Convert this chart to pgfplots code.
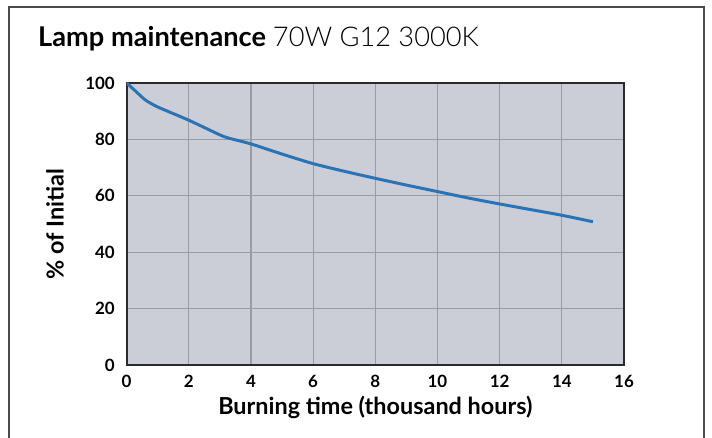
\documentclass[border=0pt]{standalone}
\usepackage{fontspec}
\setmainfont{Lato}
\newfontfamily\lightfont{Lato Light}
\usepackage{pgfplots}
\pgfplotsset{compat=1.18}
\definecolor{bgc}{HTML}{CBCED6}
\definecolor{gridc}{HTML}{999CA2}
\definecolor{curve}{HTML}{2A74B6}
\definecolor{frame}{HTML}{2B2A2C}
\begin{document}
\begin{tikzpicture}[x=1bp,y=1bp]
\useasboundingbox (0,0) rectangle (712,438);
\draw[line width=1.8bp, color=frame!85] (9,0) -- (9,431) -- (704,431) -- (704,0);
\node[anchor=base west, inner sep=0pt, font=\fontsize{27.3}{30}\selectfont] at (38,391) {\textbf{Lamp maintenance} {\lightfont 70W G12 3000K}};
\begin{axis}[
  at={(126.6bp,73bp)}, anchor=origin,
  scale only axis, width=497.4bp, height=282bp,
  xmin=0, xmax=16, ymin=0, ymax=100,
  xtick={0,2,...,16}, ytick={0,20,...,100},
  axis background/.style={fill=bgc},
  grid=major, major grid style={color=gridc, line width=1.1bp},
  axis line style={color=frame, line width=2.2bp},
  tick style={draw=none},
  /pgf/number format/assume math mode=true,
  xticklabel style={font=\bfseries\fontsize{17}{18}\selectfont, inner sep=0pt, anchor=base, yshift=-23bp},
  yticklabel style={font=\bfseries\fontsize{17}{18}\selectfont, inner sep=0pt, anchor=east, xshift=-11.6bp},
  xlabel={\textbf{Burning time (thousand hours)}},
  ylabel={\textbf{\% of Initial}},
  every axis x label/.style={at={(axis description cs:0.5,-0.1773)}, anchor=base, inner sep=0pt, font=\fontsize{23.5}{26}\selectfont},
  every axis y label/.style={at={(axis description cs:-0.144,0.5)}, rotate=90, anchor=center, inner sep=0pt, font=\fontsize{23.5}{26}\selectfont},
]
\addplot[color=curve, line width=3bp, smooth, tension=0.4] coordinates {
(0,100) (0.3,97) (0.6,94) (1,91.5) (2,86.8) (3,81.6) (3.3,80.4) (4,78.4)
(5,74.8) (6,71.4) (7,68.7) (8,66.2) (9,63.8) (10,61.5) (11,59.2)
(12,57.1) (13,55.1) (14,53.1) (15,50.8)
};
\end{axis}
\end{tikzpicture}
\end{document}
